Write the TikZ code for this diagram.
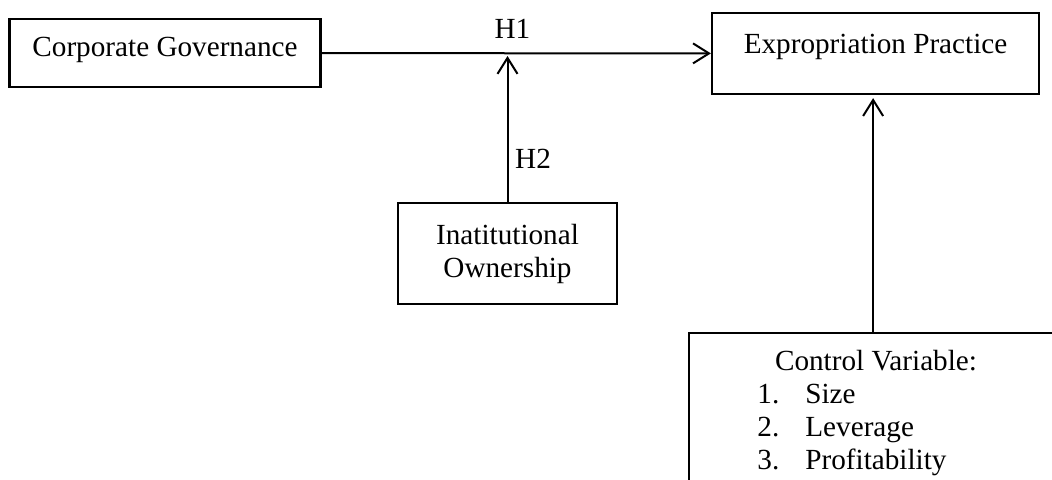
\documentclass[tikz,border=0pt]{standalone}
\usepackage{fontspec}
\setmainfont{Liberation Serif}
\usetikzlibrary{arrows.meta,positioning}

\begin{document}
\begin{tikzpicture}[x=0.5pt,y=-0.5pt,>={Straight Barb[length=8pt,width=10pt]}]

\tikzstyle{box} = [draw, line width=1.1pt, rectangle, inner sep=0pt, align=center, font={\fontsize{14.6}{16.5}\selectfont}]
\tikzstyle{arrowEdge} = [black, line width=1pt, ->];
\tikzstyle{edgeLabel} = [font={\fontsize{14.6}{16.5}\selectfont}];

\useasboundingbox (0,0) rectangle (1052,479);
\clip (0,0) rectangle (1052,479);

\node[box, name=gov, minimum width=155.5pt, minimum height=34pt, text depth=6pt] at (165,53) {Corporate Governance};
\node[box, name=exprop, minimum width=163.5pt, minimum height=40.5pt, text depth=10pt] at (875.5,53.5) {Expropriation Practice};
\node[box, name=inst, minimum width=109.5pt, minimum height=50.5pt] at (507.5,253.5) {Inatitutional\\Ownership};
\node[box, name=ctrl, anchor=north west, minimum width=184pt, minimum height=90pt] at (688,332) {};
\node[edgeLabel, name=ctrlTitle, anchor=base] at (876,370) {Control Variable:};
\node[edgeLabel, name=ctrlList, anchor=base west, inner sep=0pt] at (757,403) {%
  \begin{tabular}[t]{@{}p{24pt}@{}l@{}}
  1. & Size\\
  2. & Leverage\\
  3. & Profitability
  \end{tabular}};

\coordinate (junction) at (inst.north |- gov.east);

\draw (gov) edge[arrowEdge] node[edgeLabel, above, pos=0.49, yshift=3.5pt] {H1} (exprop);
\draw (inst) edge[arrowEdge, shorten >=1.5pt] node[edgeLabel, right, pos=0.29] {H2} (junction);
\draw (ctrl.north) edge[arrowEdge, shorten >=1.5pt] (ctrl.north |- exprop.south);
\end{tikzpicture}
\end{document}
